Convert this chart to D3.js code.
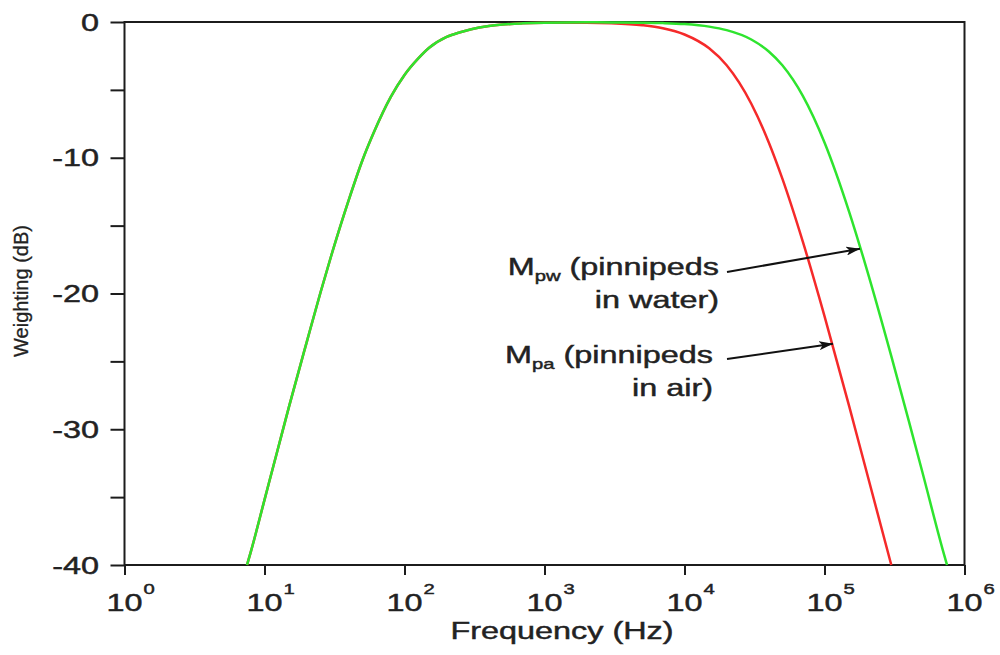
<!DOCTYPE html>
<html>
<head>
<meta charset="utf-8">
<script src="https://cdn.jsdelivr.net/npm/d3@7"></script>
<style>
  html, body { margin: 0; padding: 0; background: #fff; }
  svg { display: block; font-family: "Liberation Sans", Arial, Helvetica, sans-serif; }
  svg text { fill: #222; stroke: #222; stroke-width: 0.45px; }
</style>
</head>
<body>
<svg id="chart" width="1000" height="655"></svg>
<script>
// Frequency grid (Hz) shared by both weighting curves
const freqs = [7.5, 8, 10, 12.5, 15, 20, 25, 30, 40, 50, 60, 80, 100, 125, 150, 200, 250, 300,
  400, 500, 700, 1000, 2000, 3000, 5000, 7000, 10000, 15000, 20000, 30000, 40000, 50000,
  70000, 100000, 150000, 200000, 300000, 400000, 500000, 700000, 750000];

// M-weighting for pinnipeds in air (dB)
const mpa = [-40, -39.0, -35.2, -31.4, -28.3, -23.6, -20.0, -17.2, -13.1, -10.2, -8.2, -5.5,
  -3.9, -2.7, -1.9, -1.1, -0.75, -0.53, -0.3, -0.19, -0.1, -0.06, -0.05, -0.09, -0.24, -0.46,
  -0.92, -1.94, -3.19, -6.02, -8.87, -11.54, -16.18, -21.66, -28.3, -33.15, -40,
  null, null, null, null];

// M-weighting for pinnipeds in water (dB)
const mpw = [-40, -39.0, -35.2, -31.4, -28.3, -23.6, -20.0, -17.2, -13.1, -10.2, -8.2, -5.5,
  -3.9, -2.7, -1.9, -1.1, -0.75, -0.53, -0.3, -0.19, -0.1, -0.05, -0.02, -0.03, -0.05, -0.08,
  -0.15, -0.34, -0.6, -1.29, -2.17, -3.19, -5.44, -8.87, -13.98, -18.18, -24.61, -29.38,
  -33.15, -38.9, -40];

// Axis ticks
const xTickExponents = [0, 1, 2, 3, 4, 5, 6];
const yTicks = [0, -5, -10, -15, -20, -25, -30, -35, -40];
const yTickLabels = ["0", "", "-10", "", "-20", "", "-30", "", "-40"];

// Callout labels: name, subscript, two text lines, arrow tip in data units
const calloutNames = ["M", "M"];
const calloutSubs = ["pw", "pa"];
const calloutLine1 = [" (pinnipeds", " (pinnipeds"];
const calloutLine2 = ["in water)", "in air)"];
const calloutTipFreq = [179500, 115000];
const calloutTipDb = [-16.7, -23.7];

const svg = d3.select("#chart");
const plotLeft = 124.5, plotRight = 964.5, plotTop = 22, plotBottom = 565;
const sx = 1.35; // horizontal stretch of the lettering

const x = d3.scaleLog().domain([1, 1e6]).range([plotLeft, plotRight]);
const y = d3.scaleLinear().domain([-40, 0]).range([plotBottom, plotTop]);

const axisColor = "#1c1c1c";

// Frame
svg.append("rect")
  .attr("x", plotLeft).attr("y", plotTop)
  .attr("width", plotRight - plotLeft).attr("height", plotBottom - plotTop)
  .attr("fill", "none").attr("stroke", axisColor).attr("stroke-width", 2);

// Left axis ticks
const yAxis = d3.axisLeft(y).tickValues(yTicks).tickSize(14).tickFormat("");
const gy = svg.append("g").attr("transform", `translate(${plotLeft},0)`).call(yAxis);
gy.select(".domain").remove();
gy.selectAll(".tick line").attr("stroke", axisColor).attr("stroke-width", 2);

// Bottom axis ticks
const xAxis = d3.axisBottom(x).tickValues(xTickExponents.map(e => Math.pow(10, e))).tickSize(10).tickFormat("");
const gx = svg.append("g").attr("transform", `translate(0,${plotBottom})`).call(xAxis);
gx.select(".domain").remove();
gx.selectAll(".tick line").attr("stroke", axisColor).attr("stroke-width", 2);

// Stretched text helper
function stretched(px, py) {
  return svg.append("g").attr("transform", `translate(${px},${py}) scale(${sx},1)`);
}

// Y tick labels
yTicks.forEach((v, i) => {
  if (!yTickLabels[i]) return;
  stretched(99, y(v) + 8.5).append("text")
    .attr("text-anchor", "end").attr("font-size", 24)
    .text(yTickLabels[i]);
});

// X tick labels as powers of ten
xTickExponents.forEach(e => {
  const g = stretched(x(Math.pow(10, e)), 611);
  g.append("text").attr("text-anchor", "middle").attr("font-size", 24).text("10");
  g.append("text").attr("x", 14).attr("y", -17).attr("font-size", 15).text(String(e));
});

// Axis titles
stretched(562, 639).append("text")
  .attr("text-anchor", "middle").attr("font-size", 24)
  .text("Frequency (Hz)");

svg.append("text")
  .attr("transform", "translate(28,291) rotate(-90)")
  .attr("text-anchor", "middle").attr("font-size", 20)
  .style("stroke-width", "0.3px")
  .text("Weighting (dB)");

// Curves
const line = d3.line()
  .defined(d => d[1] !== null)
  .x(d => x(d[0]))
  .y(d => y(d[1]))
  .curve(d3.curveMonotoneX);

svg.append("path")
  .datum(freqs.map((f, i) => [f, mpa[i]]))
  .attr("d", line)
  .attr("fill", "none").attr("stroke", "#f52a2a").attr("stroke-width", 2.5)
  .attr("stroke-linejoin", "round");

svg.append("path")
  .datum(freqs.map((f, i) => [f, mpw[i]]))
  .attr("d", line)
  .attr("fill", "none").attr("stroke", "#2ee42e").attr("stroke-width", 2.5)
  .attr("stroke-linejoin", "round");

// Arrowhead marker
svg.append("defs").append("marker")
  .attr("id", "arrowhead")
  .attr("viewBox", "0 0 14 9")
  .attr("refX", 14).attr("refY", 4.5)
  .attr("markerWidth", 14).attr("markerHeight", 9)
  .attr("markerUnits", "userSpaceOnUse")
  .attr("orient", "auto")
  .append("path").attr("d", "M0,0 L14,4.5 L0,9 L3.5,4.5 Z").attr("fill", "#111");

// Callouts
const calloutBase = [275, 363];
const calloutRight = [719, 713];
const arrowStart = [[727, 272], [727, 359]];

calloutNames.forEach((name, i) => {
  const g1 = stretched(calloutRight[i], calloutBase[i]);
  const t1 = g1.append("text").attr("text-anchor", "end").attr("font-size", 24);
  t1.append("tspan").text(name);
  t1.append("tspan").attr("font-size", 15).attr("dy", 6).text(calloutSubs[i]);
  t1.append("tspan").attr("dy", -6).text(calloutLine1[i]);

  stretched(calloutRight[i], calloutBase[i] + 33).append("text")
    .attr("text-anchor", "end").attr("font-size", 24)
    .text(calloutLine2[i]);

  svg.append("line")
    .attr("x1", arrowStart[i][0]).attr("y1", arrowStart[i][1])
    .attr("x2", x(calloutTipFreq[i])).attr("y2", y(calloutTipDb[i]))
    .attr("stroke", "#111").attr("stroke-width", 2)
    .attr("marker-end", "url(#arrowhead)");
});
</script>
</body>
</html>
